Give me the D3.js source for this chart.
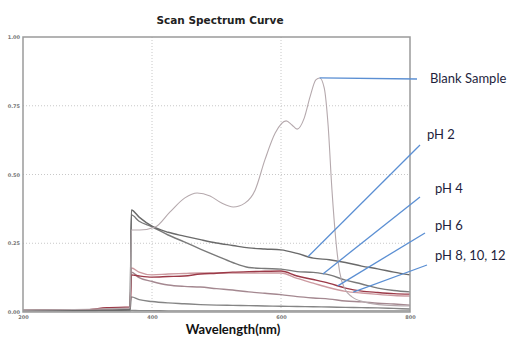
<!DOCTYPE html>
<html>
<head>
<meta charset="utf-8">
<script src="https://cdn.jsdelivr.net/npm/d3@7"></script>
<style>
  body { margin: 0; background: #fff; }
  svg { display: block; }
</style>
</head>
<body>
<div id="chart"></div>
<script>
// wavelength grid shared by the pH curves (nm)
const waves = [200, 300, 330, 366, 368, 380, 400, 425, 450, 475, 500, 525, 550, 575, 600, 625, 650, 675, 700, 725, 750, 775, 800];

// absorbance per series
const ph2 = [0.006, 0.006, 0.006, 0.008, 0.371, 0.345, 0.312, 0.290, 0.276, 0.263, 0.251, 0.242, 0.233, 0.229, 0.226, 0.213, 0.196, 0.190, 0.180, 0.167, 0.157, 0.145, 0.135];
const ph4 = [0.006, 0.006, 0.006, 0.008, 0.353, 0.330, 0.310, 0.280, 0.255, 0.229, 0.204, 0.180, 0.162, 0.158, 0.156, 0.147, 0.144, 0.135, 0.116, 0.102, 0.087, 0.078, 0.073];
const ph6 = [0.006, 0.008, 0.016, 0.018, 0.135, 0.131, 0.127, 0.129, 0.131, 0.138, 0.141, 0.145, 0.147, 0.148, 0.149, 0.131, 0.118, 0.104, 0.087, 0.076, 0.071, 0.067, 0.065];
const ph8 = [0.006, 0.008, 0.015, 0.017, 0.160, 0.145, 0.135, 0.138, 0.140, 0.142, 0.142, 0.142, 0.142, 0.142, 0.142, 0.122, 0.105, 0.088, 0.075, 0.069, 0.064, 0.060, 0.058];
const ph10 = [0.005, 0.006, 0.010, 0.012, 0.145, 0.125, 0.111, 0.098, 0.093, 0.091, 0.085, 0.080, 0.073, 0.068, 0.063, 0.056, 0.051, 0.047, 0.040, 0.037, 0.032, 0.029, 0.025];
const ph12 = [0.005, 0.005, 0.007, 0.008, 0.055, 0.045, 0.038, 0.033, 0.030, 0.027, 0.025, 0.024, 0.023, 0.022, 0.021, 0.020, 0.019, 0.018, 0.017, 0.016, 0.015, 0.013, 0.011];
const base = [0.004, 0.004, 0.004, 0.004, 0.006, 0.005, 0.005, 0.004, 0.004, 0.004, 0.004, 0.004, 0.004, 0.004, 0.004, 0.004, 0.004, 0.004, 0.004, 0.004, 0.004, 0.004, 0.004];

// blank sample has its own finer grid around the peaks
const blankWaves = [200, 312, 366, 368, 381, 405, 428, 451, 470, 490, 508, 526, 544, 560, 575, 591, 608, 617, 625, 636, 645, 654, 660, 667, 673, 679, 685, 691, 699, 710, 730, 761, 800];
const blank = [0.007, 0.011, 0.015, 0.298, 0.298, 0.309, 0.364, 0.415, 0.433, 0.422, 0.396, 0.382, 0.396, 0.444, 0.553, 0.651, 0.695, 0.680, 0.665, 0.705, 0.782, 0.844, 0.851, 0.815, 0.680, 0.444, 0.262, 0.145, 0.084, 0.055, 0.036, 0.025, 0.022];

const xTicks = [200, 400, 600, 800];
const yTicks = [0, 0.25, 0.5, 0.75, 1];

const series = [
  { name: 'base', x: waves, y: base, color: '#8a8a8a' },
  { name: 'pH 12', x: waves, y: ph12, color: '#858585' },
  { name: 'pH 10', x: waves, y: ph10, color: '#a48890' },
  { name: 'pH 8', x: waves, y: ph8, color: '#cc9aa0' },
  { name: 'pH 6', x: waves, y: ph6, color: '#9c3a48' },
  { name: 'pH 4', x: waves, y: ph4, color: '#7a7a7a' },
  { name: 'pH 2', x: waves, y: ph2, color: '#6a6a6a' },
  { name: 'Blank', x: blankWaves, y: blank, color: '#b5a9ad' }
];

// label text, position, where the leader starts, and which curve/wavelength it points to
const notes = [
  { text: 'Blank Sample', tx: 430, ty: 83, lx: 417, ly: 79, s: 'Blank', wl: 660 },
  { text: 'pH 2', tx: 427, ty: 139, lx: 420, ly: 145, s: 'pH 2', wl: 642 },
  { text: 'pH 4', tx: 435, ty: 193, lx: 420, ly: 197, s: 'pH 4', wl: 665 },
  { text: 'pH 6', tx: 435, ty: 230, lx: 425, ly: 233, s: 'pH 6', wl: 688 },
  { text: 'pH 8, 10, 12', tx: 435, ty: 260, lx: 427, ly: 265, s: 'pH 8', wl: 712 }
];

const W = 512, H = 338;
const plotL = 23, plotR = 410, plotT = 37, plotB = 312;

const svg = d3.select('#chart').append('svg')
  .attr('width', W)
  .attr('height', H);

const x = d3.scaleLinear().domain([200, 800]).range([plotL, plotR]);
const y = d3.scaleLinear().domain([0, 1]).range([plotB, plotT]);

// dotted grid
svg.append('g')
  .selectAll('line')
  .data(xTicks.slice(1, -1))
  .enter().append('line')
  .attr('x1', d => x(d)).attr('x2', d => x(d))
  .attr('y1', plotT).attr('y2', plotB)
  .attr('stroke', '#c8c8c8')
  .attr('stroke-dasharray', '1,2');

svg.append('g')
  .selectAll('line')
  .data(yTicks.slice(1, -1))
  .enter().append('line')
  .attr('x1', plotL).attr('x2', plotR)
  .attr('y1', d => y(d)).attr('y2', d => y(d))
  .attr('stroke', '#c8c8c8')
  .attr('stroke-dasharray', '1,2');

// axes, tiny labels
const xAxis = d3.axisBottom(x).tickValues(xTicks).tickSize(0).tickPadding(3)
  .tickFormat(d3.format('d'));
const yAxis = d3.axisLeft(y).tickValues(yTicks).tickSize(0).tickPadding(3)
  .tickFormat(d3.format('.2f'));

const gx = svg.append('g')
  .attr('transform', `translate(0, ${plotB})`)
  .call(xAxis);
const gy = svg.append('g')
  .attr('transform', `translate(${plotL}, 0)`)
  .call(yAxis);

[gx, gy].forEach(g => {
  g.select('.domain').remove();
  g.selectAll('text')
    .attr('font-size', 5)
    .attr('font-family', 'DejaVu Sans')
    .attr('font-weight', 'bold')
    .attr('fill', '#777');
});

const line = d3.line()
  .x(d => x(d[0]))
  .y(d => y(d[1]))
  .curve(d3.curveMonotoneX);

svg.append('g')
  .attr('fill', 'none')
  .selectAll('path')
  .data(series)
  .enter().append('path')
  .attr('stroke', d => d.color)
  .attr('stroke-width', d => d.name === 'Blank' ? 1.1 : 1.4)
  .attr('d', d => line(d.x.map((w, i) => [w, d.y[i]])));

// plot frame
svg.append('rect')
  .attr('x', plotL).attr('y', plotT)
  .attr('width', plotR - plotL).attr('height', plotB - plotT)
  .attr('fill', 'none')
  .attr('stroke', '#9a9a9a')
  .attr('stroke-width', 1.5);

// title
svg.append('text')
  .attr('x', 220).attr('y', 24)
  .attr('text-anchor', 'middle')
  .attr('font-family', 'DejaVu Sans')
  .attr('font-weight', 'bold')
  .attr('font-size', 10.5)
  .attr('fill', '#222')
  .text('Scan Spectrum Curve');

svg.append('text')
  .attr('x', 233).attr('y', 334)
  .attr('text-anchor', 'middle')
  .attr('font-family', 'Lato')
  .attr('font-weight', 'bold')
  .attr('font-size', 13)
  .attr('fill', '#111')
  .text('Wavelength(nm)');

// leaders + labels
const valueAt = (s, wl) => {
  const i = d3.bisectRight(s.x, wl) - 1;
  const t = (wl - s.x[i]) / (s.x[i + 1] - s.x[i]);
  return s.y[i] + t * (s.y[i + 1] - s.y[i]);
};

const byName = Object.fromEntries(series.map(s => [s.name, s]));

const ann = svg.append('g');
notes.forEach(n => {
  const s = byName[n.s];
  ann.append('line')
    .attr('x1', x(n.wl)).attr('y1', y(valueAt(s, n.wl)))
    .attr('x2', n.lx).attr('y2', n.ly)
    .attr('stroke', '#5b8fd3')
    .attr('stroke-width', 1.3);
  ann.append('text')
    .attr('x', n.tx).attr('y', n.ty)
    .attr('font-family', 'Lato')
    .attr('font-size', 13)
    .attr('fill', '#1e1e3c')
    .text(n.text);
});
</script>
</body>
</html>
